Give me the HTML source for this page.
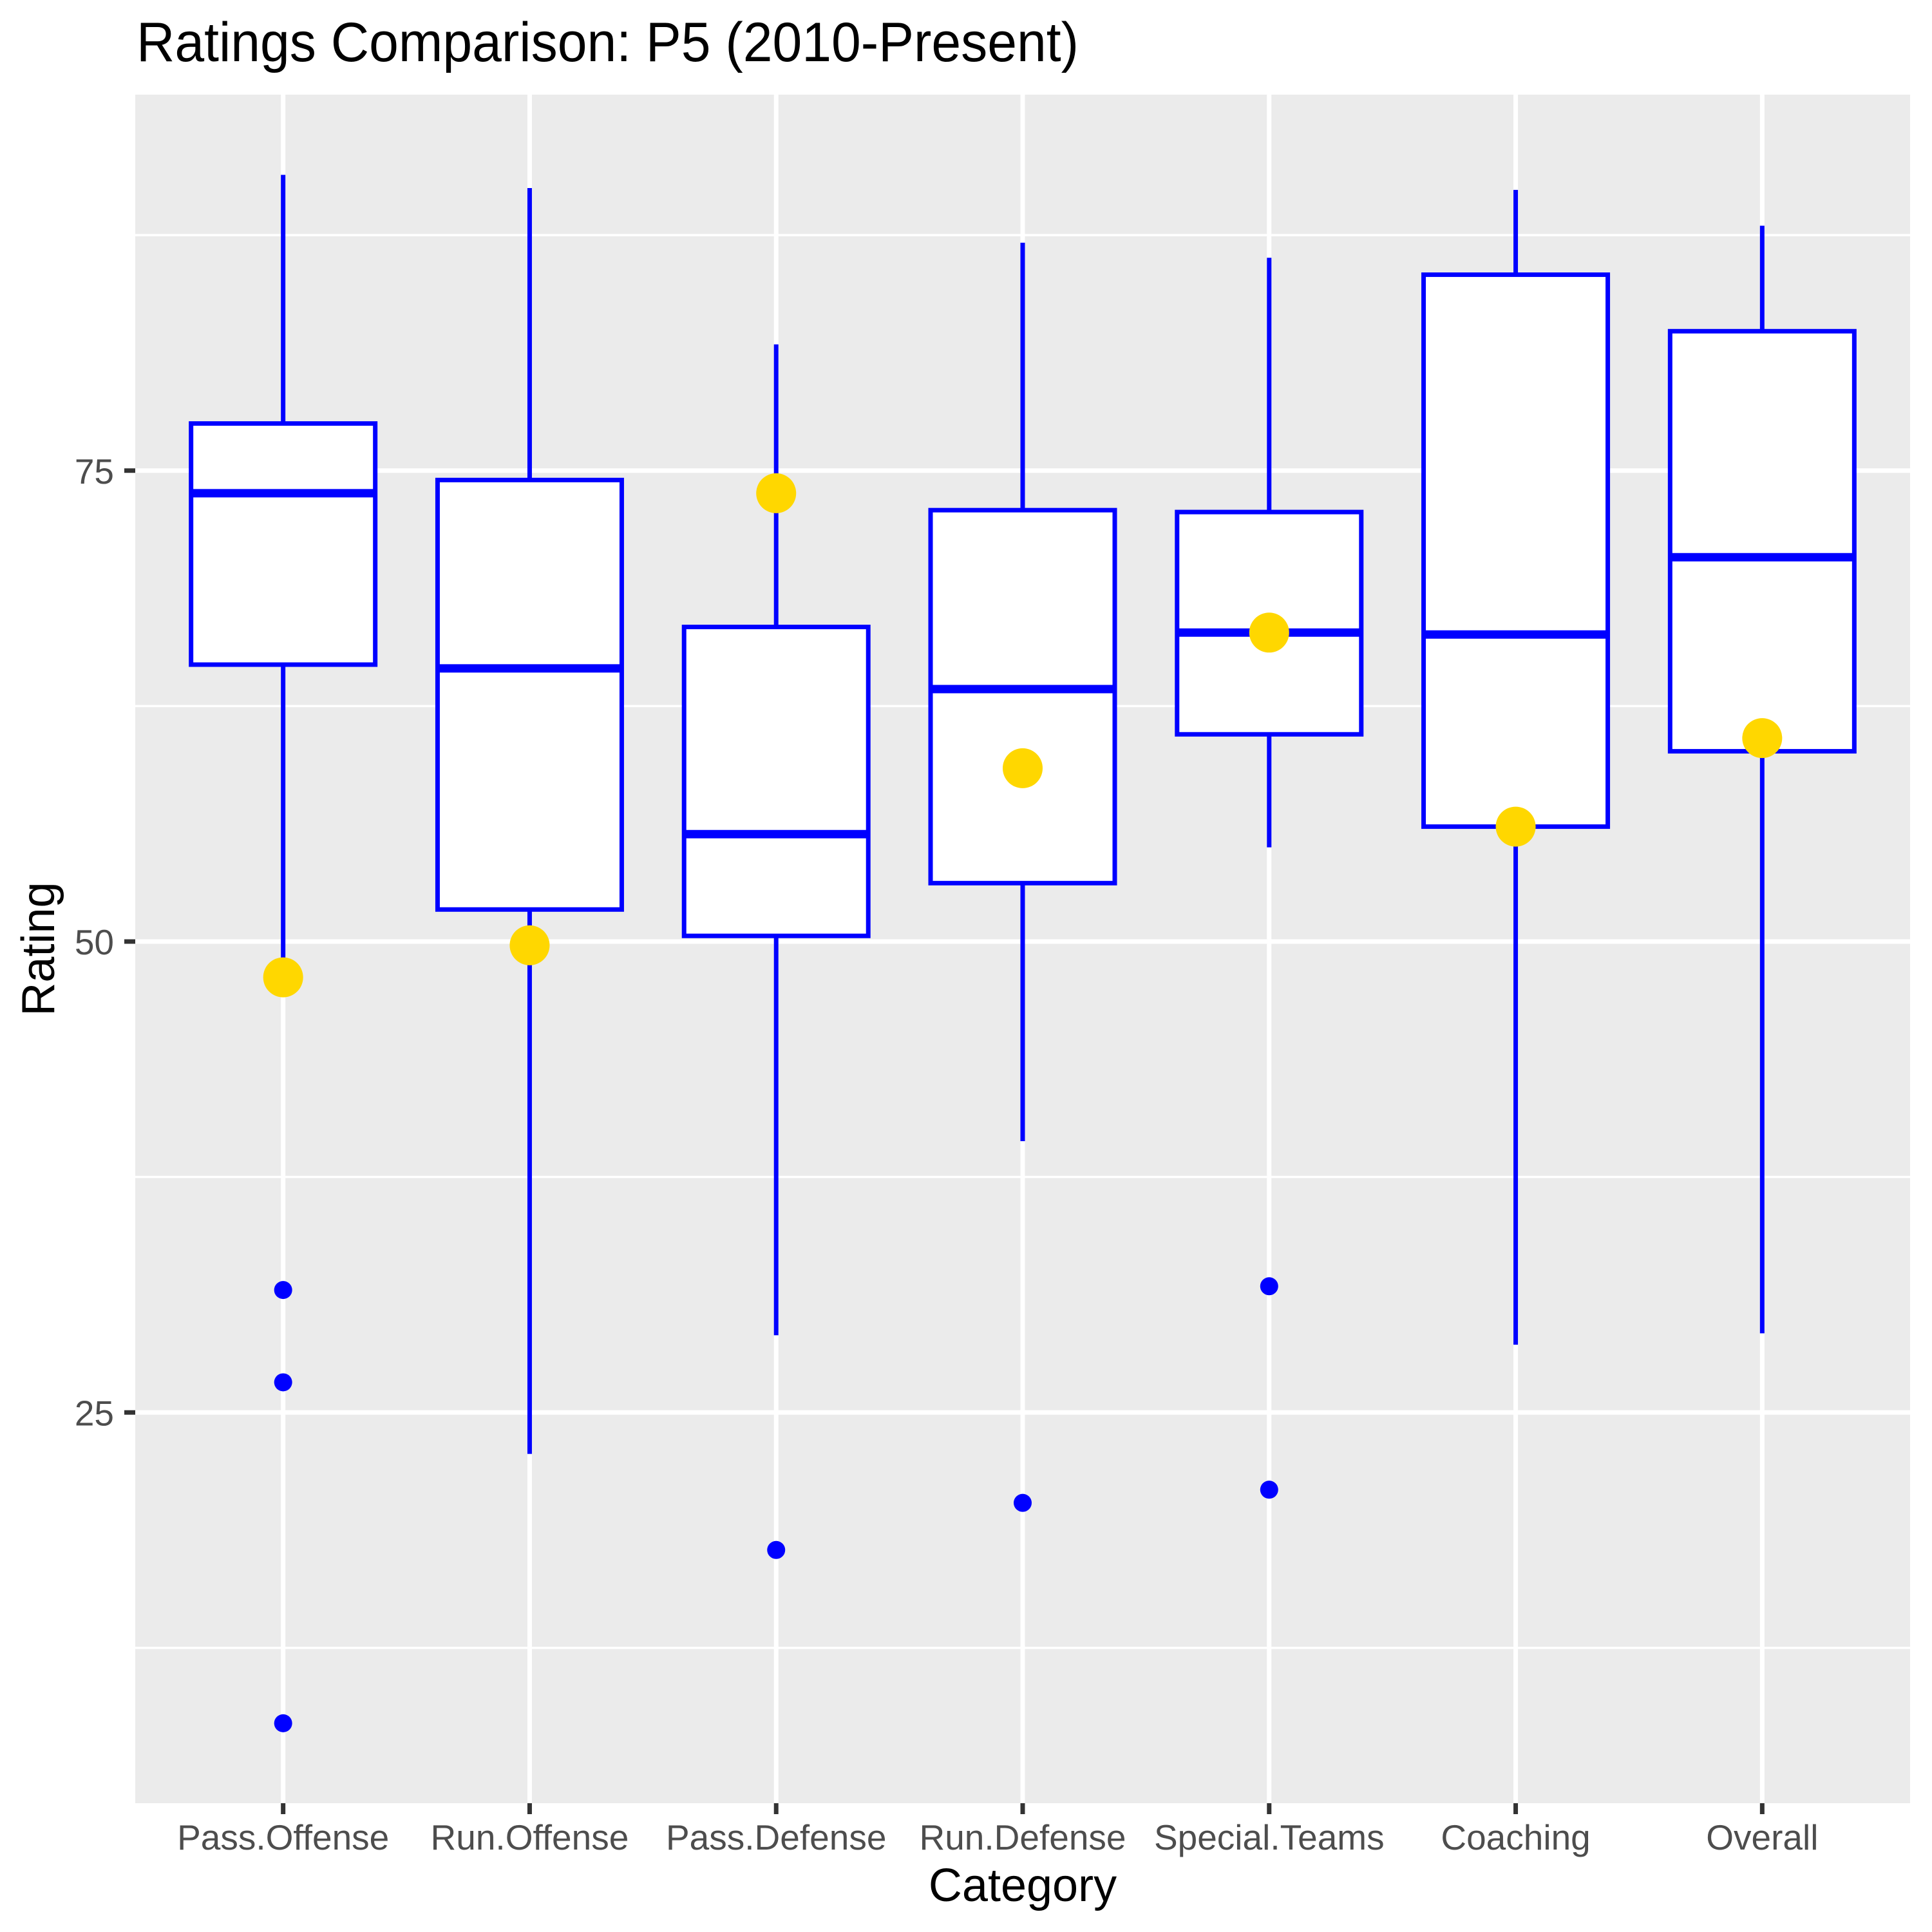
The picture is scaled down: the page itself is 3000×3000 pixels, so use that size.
<!DOCTYPE html>
<html><head><meta charset="utf-8"><style>body{margin:0;background:#fff}svg{display:block}text{font-family:"Liberation Sans",sans-serif}</style></head>
<body>
<svg id="chart" width="3000" height="3000" xmlns="http://www.w3.org/2000/svg"></svg>
<script>
const categories=["Pass.Offense","Run.Offense","Pass.Defense","Run.Defense","Special.Teams","Coaching","Overall"];
const whiskerLow=[48.6,22.8,29.1,39.4,55.0,28.6,29.2];
const q1=[64.7,51.7,50.3,53.1,61.0,56.1,60.1];
const median=[73.8,64.5,55.7,63.4,66.4,66.3,70.4];
const q3=[77.5,74.5,66.7,72.9,72.8,85.4,82.4];
const whiskerHigh=[90.7,90.0,81.7,87.1,86.3,89.9,88.0];
const outliers=[[31.5,26.6,8.5],[],[17.7],[20.2],[31.7,20.9],[],[]];
const highlight=[48.1,49.8,73.8,59.2,66.4,56.1,60.8];
const yTicks=[25,50,75];
const yMinor=[12.5,37.5,62.5,87.5];

const L=210,R=2966,T=147,B=2800;
const y=v=>1462-(v-50)*29.25;
const step=(R-L)/7.2;
const x=i=>L+step*(0.6+i);
const svg=document.getElementById('chart');
const NS='http://www.w3.org/2000/svg';
function mk(tag,attrs,parent){const e=document.createElementNS(NS,tag);for(const k in attrs)e.setAttribute(k,attrs[k]);(parent||svg).appendChild(e);return e;}

let e=mk('rect',{x:L,y:T,width:R-L,height:B-T,fill:'#ebebeb'});


yMinor.forEach(v=>{const g=mk('line',{x1:L,x2:R,y1:y(v),y2:y(v),stroke:'#fff','stroke-width':3.5});

});
yTicks.forEach(v=>{const g=mk('line',{x1:L,x2:R,y1:y(v),y2:y(v),stroke:'#fff','stroke-width':7});


const t=mk('line',{x1:L-17,x2:L,y1:y(v),y2:y(v),stroke:'#333','stroke-width':7});


const l=mk('text',{x:177,y:y(v)+20,'text-anchor':'end','font-size':55,fill:'#4d4d4d'});l.textContent=v;

});
categories.forEach((c,i)=>{const g=mk('line',{x1:x(i),x2:x(i),y1:T,y2:B,stroke:'#fff','stroke-width':7});

});
const hw=143;
categories.forEach((c,i)=>{const cx=x(i);
const g=mk('g',{});


mk('line',{x1:cx,x2:cx,y1:y(whiskerHigh[i]),y2:y(q3[i]),stroke:'#0000ff','stroke-width':7},g);
mk('line',{x1:cx,x2:cx,y1:y(q1[i]),y2:y(whiskerLow[i]),stroke:'#0000ff','stroke-width':7},g);
mk('rect',{x:cx-hw,y:y(q3[i]),width:2*hw,height:y(q1[i])-y(q3[i]),fill:'#fff',stroke:'#0000ff','stroke-width':7},g);
mk('line',{x1:cx-hw,x2:cx+hw,y1:y(median[i]),y2:y(median[i]),stroke:'#0000ff','stroke-width':13},g);
outliers[i].forEach(v=>{const o=mk('circle',{cx:cx,cy:y(v),r:14,fill:'#0000ff'},g);

});
const t=mk('text',{x:cx,y:2872,'text-anchor':'middle','font-size':55,fill:'#4d4d4d'});t.textContent=c;


const tk=mk('line',{x1:cx,x2:cx,y1:B,y2:B+17,stroke:'#333','stroke-width':7});

});
categories.forEach((c,i)=>{const h=mk('circle',{cx:x(i),cy:y(highlight[i]),r:31,fill:'#ffd700'});

});
let t=mk('text',{x:212,y:95,'font-size':86,fill:'#000',textLength:1463,lengthAdjust:'spacingAndGlyphs'});t.textContent='Ratings Comparison: P5 (2010-Present)';


t=mk('text',{x:(L+R)/2,y:2952,'text-anchor':'middle','font-size':72,fill:'#000'});t.textContent='Category';


t=mk('text',{x:0,y:0,'text-anchor':'middle','font-size':72,fill:'#000',transform:`translate(84,${(T+B)/2}) rotate(-90)`});t.textContent='Rating';


</script>
</body></html>
